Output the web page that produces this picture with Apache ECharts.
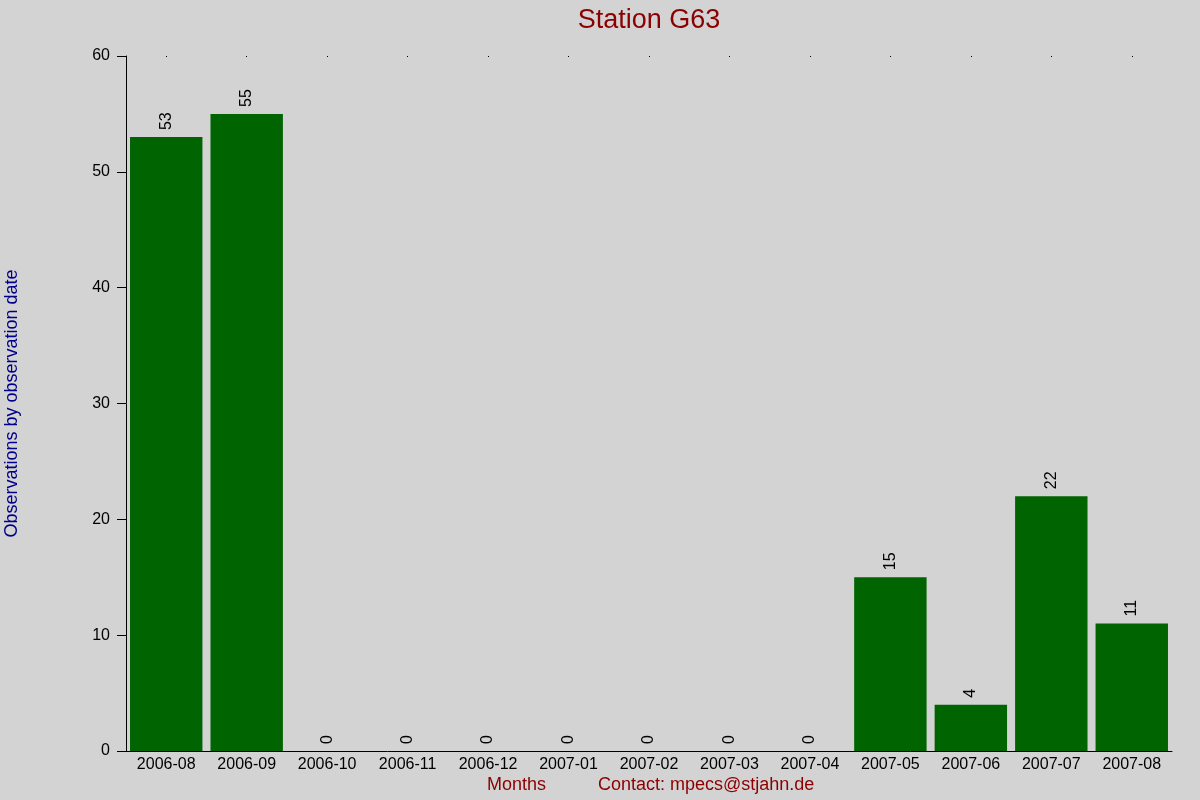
<!DOCTYPE html>
<html><head><meta charset="utf-8">
<script src="https://cdn.jsdelivr.net/npm/echarts@6/dist/echarts.min.js"></script>
<style>html,body{margin:0;padding:0;background:#d3d3d3}#c{width:1200px;height:800px}</style>
</head><body><div id="c"></div>
<script>
const months = ['2006-08','2006-09','2006-10','2006-11','2006-12','2007-01','2007-02','2007-03','2007-04','2007-05','2007-06','2007-07','2007-08'];
const observations = [53,55,0,0,0,0,0,0,0,15,4,22,11];
const yTicks = {min:0, max:60, interval:10};
const chart = echarts.init(document.getElementById('c'));
const F = 'Liberation Sans, Arial, sans-serif';
chart.setOption({
  backgroundColor:'#d3d3d3',
  animation:false,
  grid:{left:126, right:28, top:56, bottom:49, containLabel:false, outerBoundsMode:'none'},
  xAxis:[{
    type:'category', data:months, position:'bottom',
    axisLine:{lineStyle:{color:'#000', width:1}},
    axisTick:{show:false},
    axisLabel:{color:'#000', fontSize:16, fontFamily:F, margin:6, interval:0}
  },{
    type:'category', data:months, position:'top',
    axisLine:{show:false},
    axisTick:{show:true, alignWithLabel:true, length:1, inside:true, lineStyle:{color:'#000'}},
    axisLabel:{show:false}
  }],
  yAxis:{
    type:'value', min:yTicks.min, max:yTicks.max, interval:yTicks.interval,
    name:'Observations by observation date', nameLocation:'middle', nameGap:105,
    nameTextStyle:{color:'#00008b', fontSize:18, fontFamily:F},
    axisLine:{show:true, lineStyle:{color:'#000'}},
    axisTick:{show:true, length:9, lineStyle:{color:'#000'}},
    axisLabel:{color:'#000', fontSize:16, fontFamily:F, margin:16},
    splitLine:{show:false}
  },
  series:[{
    type:'bar', data:observations, xAxisIndex:0,
    barCategoryGap:'10%',
    itemStyle:{color:'#006400'},
    label:{show:true, position:'top', rotate:90, align:'left', verticalAlign:'middle', distance:7, color:'#000', fontSize:16, fontFamily:F}
  }],
  graphic:[
    {type:'text', x:649, y:7, style:{text:'Station G63', fill:'#8b0000', font:'27px '+F, textAlign:'center'}},
    {type:'text', left:487, top:776, style:{text:'Months', fill:'#8b0000', font:'18px '+F}},
    {type:'text', left:598, top:776, style:{text:'Contact: mpecs@stjahn.de', fill:'#8b0000', font:'18px '+F}}
  ]
});
</script></body></html>
